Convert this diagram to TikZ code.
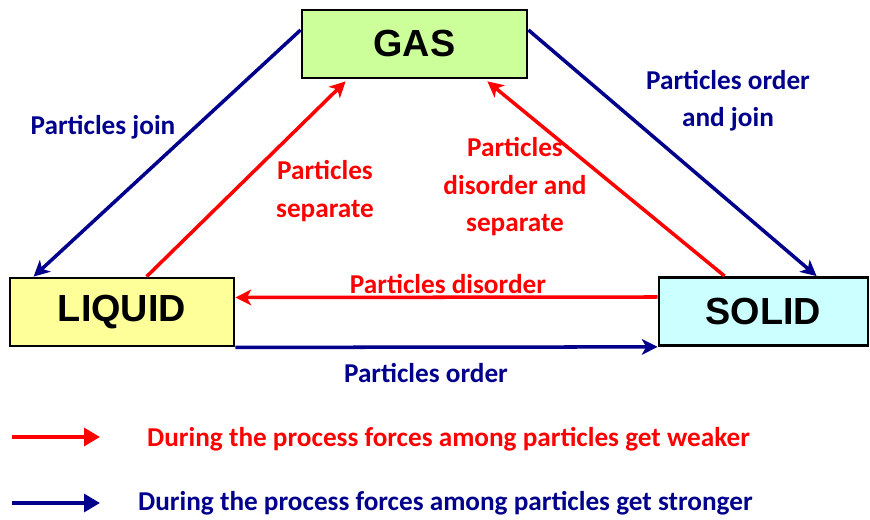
\documentclass[tikz,border=0pt]{standalone}
\usepackage{fontspec}
\setmainfont{Carlito}
\newfontfamily\boxfont{Liberation Sans}
\usepackage{tikz}
\usetikzlibrary{calc,arrows.meta}

\definecolor{navyline}{RGB}{0,0,140}
\definecolor{gasfill}{RGB}{204,255,153}
\definecolor{liqfill}{RGB}{255,255,153}
\definecolor{solfill}{RGB}{204,255,255}

\begin{document}
\begin{tikzpicture}[
  phase/.style={draw=black,line width=1.6pt,minimum height=1.36cm,inner sep=0pt,font=\boxfont\bfseries\fontsize{21.5}{24}\selectfont},
  weaker/.style={red,line width=2pt,-{Stealth[length=9pt,width=9pt,inset=2.5pt]}},
  stronger/.style={navyline,line width=2pt,-{Stealth[length=9pt,width=9pt,inset=2.5pt]}},
  lbl/.style={font=\bfseries\fontsize{15.5}{21.3}\selectfont,align=center}
]
\useasboundingbox (0,0) rectangle (17.4,10.4);

\node[phase,fill=gasfill,minimum width=4.5cm] (gas) at (8.29,9.52) {GAS};
\node[phase,fill=liqfill,minimum width=4.48cm] (liquid) at (2.44,4.16) {LIQUID};
\node[phase,fill=solfill,minimum width=4.18cm] (solid) at (15.27,4.17) {SOLID};

\draw[stronger] ([yshift=0.28cm]gas.west) -- ([xshift=0.5cm]liquid.north west);
\draw[weaker] ([xshift=2.76cm]liquid.north west) -- ([xshift=0.9cm,yshift=-0.04cm]gas.south west);
\draw[weaker] ([xshift=1.34cm]solid.north west) -- ([xshift=-0.82cm,yshift=-0.04cm]gas.south east);
\draw[stronger] ([yshift=0.28cm]gas.east) -- ([xshift=3.18cm]solid.north west);
\draw[weaker] ([yshift=0.29cm]solid.west) -- ([yshift=0.29cm]liquid.east);
\draw[stronger] (liquid.south east) -- (solid.south west);

\node[lbl,navyline] (join) at (2.06,7.86) {Particles join};
\node[lbl,red] (separate) at (6.5,6.58) {Particles\\separate};
\node[lbl,red] (disorsep) at (10.3,6.66) {Particles\\disorder and\\separate};
\node[lbl,navyline] (orderjoin) at (14.56,8.38) {Particles order\\and join};
\node[lbl,red] (disorder) at (8.96,4.72) {Particles disorder};
\node[lbl,navyline] (order) at (8.52,2.94) {Particles order};

% legend
\coordinate (r0) at (0.24,1.66);
\coordinate (r1) at (2.0,1.66);
\coordinate (b0) at (0.24,0.34);
\coordinate (b1) at (2.0,0.34);
\draw[red,line width=2.2pt,-{Triangle[length=9pt,width=10pt]}] (r0) -- (r1);
\draw[navyline,line width=2.2pt,-{Triangle[length=9pt,width=10pt]}] (b0) -- (b1);
\node[lbl,red,anchor=west] (weak) at (2.82,1.62) {During the process forces among particles get weaker};
\node[lbl,navyline,anchor=west] (strong) at (2.64,0.34) {During the process forces among particles get stronger};
\end{tikzpicture}
\end{document}
